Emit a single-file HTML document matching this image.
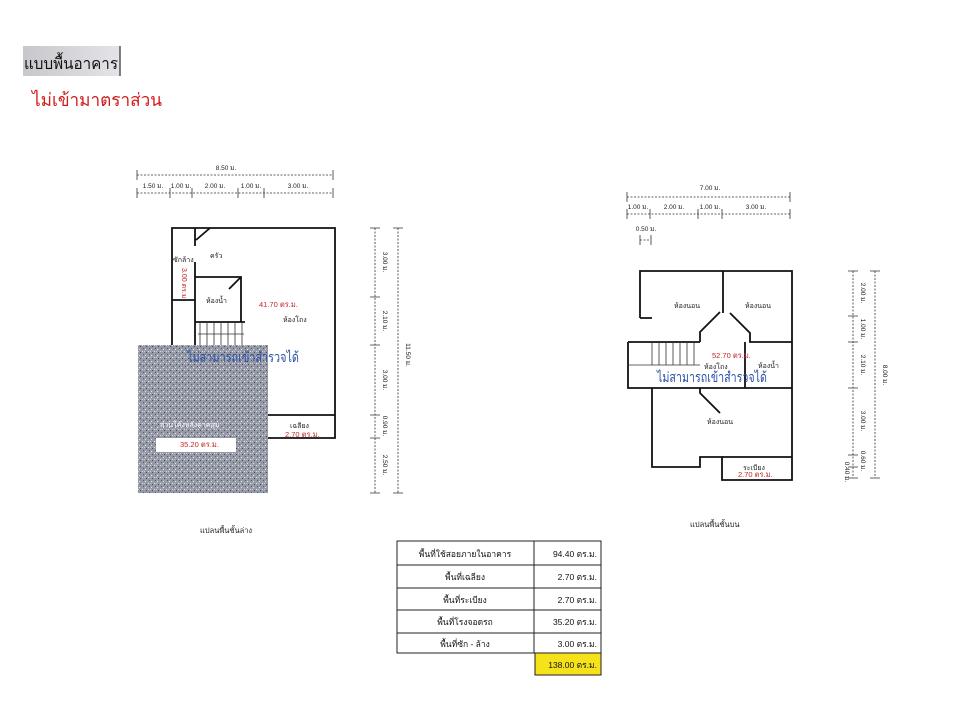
<!DOCTYPE html>
<html><head><meta charset="utf-8"><style>
body{margin:0;background:#fff;width:960px;height:720px;overflow:hidden;font-family:"Liberation Sans","Noto Sans CJK SC",sans-serif}
</style></head><body>
<svg width="960" height="720" xmlns="http://www.w3.org/2000/svg" font-family="Liberation Sans, Noto Sans CJK SC, sans-serif">
<defs>
<linearGradient id="g" x1="0" x2="1"><stop offset="0" stop-color="#c8c8cc"/><stop offset="1" stop-color="#e4e4e8"/></linearGradient>
<pattern id="n" width="6" height="6" patternUnits="userSpaceOnUse">
<rect width="6" height="6" fill="#959aa6"/><rect x="1" y="1" width="1" height="1" fill="#e8eaee"/><rect x="4" y="3" width="1" height="1" fill="#dfe2e6"/><rect x="2" y="4" width="1" height="1" fill="#44495a"/><rect x="5" y="0" width="1" height="1" fill="#555a66"/><rect x="0" y="3" width="1" height="1" fill="#c8ccd2"/>
</pattern>
</defs>
<rect x="23" y="46" width="97" height="30" fill="url(#g)"/>
<line x1="120" y1="46" x2="120" y2="76" stroke="#555" stroke-width="1.5"/>
<text x="24" y="69" font-size="16" fill="#111" textLength="94" lengthAdjust="spacingAndGlyphs">แบบพื้นอาคาร</text>
<text x="32" y="106" font-size="18" fill="#d21a1a" textLength="130" lengthAdjust="spacingAndGlyphs">ไม่เข้ามาตราส่วน</text>

<g stroke="#333" stroke-width="0.8" fill="none" stroke-dasharray="2,1.5">
<line x1="137" y1="175" x2="333" y2="175"/><line x1="137" y1="193" x2="333" y2="193"/>
<line x1="627" y1="197" x2="790" y2="197"/><line x1="627" y1="214" x2="790" y2="214"/>
<line x1="640" y1="240" x2="651" y2="240"/>
<line x1="375" y1="228" x2="375" y2="493"/><line x1="398" y1="228" x2="398" y2="493"/>
<line x1="853" y1="271" x2="853" y2="478"/><line x1="875" y1="271" x2="875" y2="478"/>
</g>
<g stroke="#333" stroke-width="0.8">
<path d="M137 170v10M333 170v10M137 188v10M170 188v10M192 188v10M238 188v10M264 188v10M333 188v10M627 192v10M790 192v10M627 209v10M650 209v10M698 209v10M722 209v10M790 209v10M640 235v10M651 235v10"/>
<path d="M370 228h10M393 228h10M370 297h10M370 345h10M370 415h10M370 438h10M370 493h10M393 493h10M848 271h10M870 271h10M848 316h10M848 342h10M848 388h10M848 455h10M848 467h10M848 478h10M870 478h10"/>
</g>
<g font-size="6.5" fill="#222">
<text x="226" y="170" text-anchor="middle">8.50 ม.</text>
<text x="153" y="188" text-anchor="middle">1.50 ม.</text><text x="181" y="188" text-anchor="middle">1.00 ม.</text><text x="215" y="188" text-anchor="middle">2.00 ม.</text><text x="251" y="188" text-anchor="middle">1.00 ม.</text><text x="298" y="188" text-anchor="middle">3.00 ม.</text>
<text x="710" y="190" text-anchor="middle">7.00 ม.</text>
<text x="638" y="209" text-anchor="middle">1.00 ม.</text><text x="674" y="209" text-anchor="middle">2.00 ม.</text><text x="710" y="209" text-anchor="middle">1.00 ม.</text><text x="756" y="209" text-anchor="middle">3.00 ม.</text>
<text x="646" y="231" text-anchor="middle">0.50 ม.</text>
<g transform="rotate(90)">
<text x="262" y="-383" text-anchor="middle">3.00 ม.</text><text x="321" y="-383" text-anchor="middle">2.10 ม.</text><text x="380" y="-383" text-anchor="middle">3.00 ม.</text><text x="426" y="-383" text-anchor="middle">0.90 ม.</text><text x="465" y="-383" text-anchor="middle">2.50 ม.</text><text x="355" y="-406" text-anchor="middle">11.50 ม.</text>
<text x="293" y="-861" text-anchor="middle">2.00 ม.</text><text x="329" y="-861" text-anchor="middle">1.00 ม.</text><text x="365" y="-861" text-anchor="middle">2.10 ม.</text><text x="421" y="-861" text-anchor="middle">3.00 ม.</text><text x="461" y="-861" text-anchor="middle">0.60 ม.</text><text x="472" y="-845" text-anchor="middle">0.40 ม.</text><text x="375" y="-883" text-anchor="middle">8.00 ม.</text>
</g>
</g>

<g fill="none" stroke="#111" stroke-width="1.8">
<path d="M172 345V228h163v210h-67"/>
<path d="M335 415h-67"/>
<path d="M172 300h23M195 228v18M195 262v83M195 277h46v45M195 322h50M210 228l-14 12"/>
<path d="M241 277l-12 12"/>
</g>
<g stroke="#333" stroke-width="0.8"><path d="M200 322v23M207 322v23M214 322v23M221 322v23M228 322v23M235 322v23M242 322v23M198 334h46"/></g>
<rect x="138" y="345" width="130" height="148" fill="url(#n)"/>
<rect x="156" y="438" width="80" height="14" fill="#fff"/>
<g font-size="7" fill="#222">
<text x="173" y="262">ซักล้าง</text><text x="210" y="258">ครัว</text><text x="206" y="303">ห้องน้ำ</text><text x="283" y="322">ห้องโถง</text><text x="290" y="428">เฉลียง</text><text x="160" y="427" fill="#fff">ส่วนโค้งหลังคาคลุม</text>
</g>
<g font-size="7.5" fill="#c0262a"><text x="259" y="307">41.70 ตร.ม.</text><text x="285" y="437">2.70 ตร.ม.</text><text x="180" y="447">35.20 ตร.ม.</text>
<text transform="translate(182,268) rotate(90)" font-size="7">3.00 ตร.ม.</text></g>
<text x="187" y="362" font-size="14" fill="#2a4fa8" textLength="112" lengthAdjust="spacingAndGlyphs">ไม่สามารถเข้าสำรวจได้</text>

<g fill="none" stroke="#111" stroke-width="1.8">
<path d="M640 318V271h152v209h-70v-23h-22v10h-48v-79"/>
<path d="M652 318h-12M628 342h72M628 342v46h72M700 342v-10l20-20M723 271v42M730 313l20 20v9h42M745 342v46M700 388h92M700 388v5l20 20"/>
<path d="M722 457h70"/>
</g>
<g stroke="#333" stroke-width="0.8"><path d="M652 342v23M659 342v23M666 342v23M673 342v23M680 342v23M687 342v23M694 342v23M628 365h72"/></g>
<g font-size="7" fill="#222"><text x="674" y="308">ห้องนอน</text><text x="745" y="308">ห้องนอน</text><text x="704" y="369">ห้องโถง</text><text x="758" y="368">ห้องน้ำ</text><text x="707" y="424">ห้องนอน</text><text x="743" y="470">ระเบียง</text></g>
<g font-size="7.5" fill="#c0262a"><text x="712" y="358">52.70 ตร.ม.</text><text x="738" y="477">2.70 ตร.ม.</text></g>
<text x="657" y="382" font-size="14" fill="#2a4fa8" textLength="110" lengthAdjust="spacingAndGlyphs">ไม่สามารถเข้าสำรวจได้</text>

<g font-size="7.5" fill="#222"><text x="200" y="533">แปลนพื้นชั้นล่าง</text><text x="690" y="527">แปลนพื้นชั้นบน</text></g>

<g stroke="#222" stroke-width="1" fill="none">
<rect x="397" y="541" width="204" height="112"/>
<path d="M534 541v112M397 565h204M397 588h204M397 610h204M397 633h204"/>
</g>
<rect x="535" y="653" width="66" height="22" fill="#f6e21a" stroke="#222" stroke-width="1"/>
<g font-size="8.5" fill="#111">
<text x="465" y="557" text-anchor="middle">พื้นที่ใช้สอยภายในอาคาร</text><text x="465" y="580" text-anchor="middle">พื้นที่เฉลียง</text><text x="465" y="603" text-anchor="middle">พื้นที่ระเบียง</text><text x="465" y="625" text-anchor="middle">พื้นที่โรงจอดรถ</text><text x="465" y="647" text-anchor="middle">พื้นที่ซัก - ล้าง</text>
<g text-anchor="end"><text x="597" y="557">94.40 ตร.ม.</text><text x="597" y="580">2.70 ตร.ม.</text><text x="597" y="603">2.70 ตร.ม.</text><text x="597" y="625">35.20 ตร.ม.</text><text x="597" y="647">3.00 ตร.ม.</text><text x="597" y="668">138.00 ตร.ม.</text></g>
</g>
</svg>
</body></html>
